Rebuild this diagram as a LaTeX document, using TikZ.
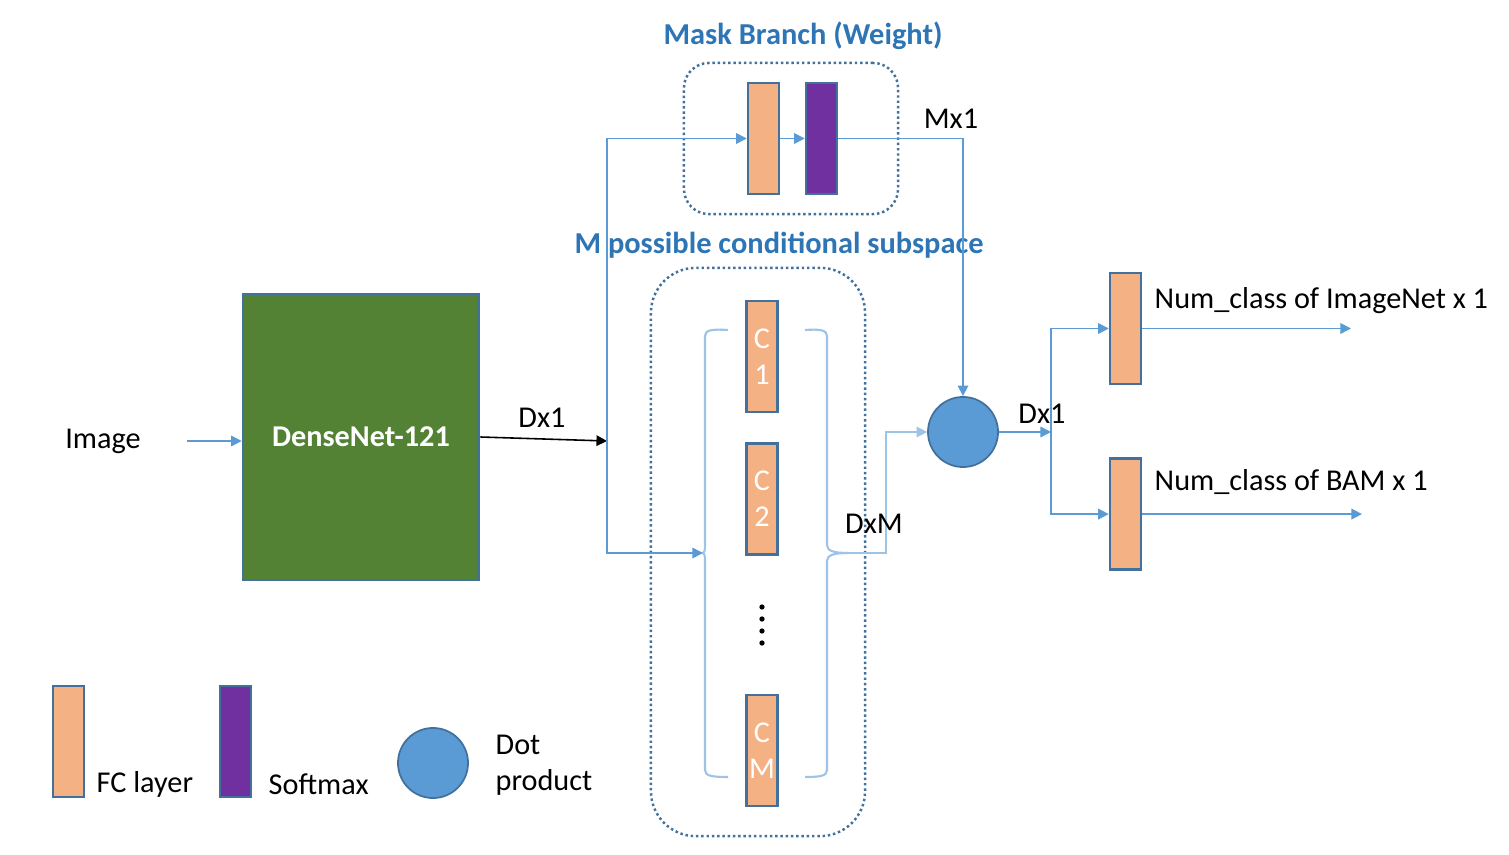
\documentclass[tikz,border=0pt]{standalone}
\usepackage{fontspec}
\setmainfont{Carlito}
\usetikzlibrary{positioning, arrows.meta, calc}
\definecolor{fcfill}{HTML}{F4B183}
\definecolor{smfill}{HTML}{7030A0}
\definecolor{netgreen}{HTML}{548235}
\definecolor{edgeblue}{HTML}{41719C}
\definecolor{flowblue}{HTML}{5B9BD5}
\definecolor{bracelight}{HTML}{9DC3E6}
\definecolor{titleblue}{HTML}{2E75B6}
\tikzset{
	>={Triangle[length=3pt,width=3pt]}, % small filled arrow heads
	every node/.style={font=\fontsize{8.6}{10.2}\selectfont}, % Calibri-like text everywhere
	layer/.style={draw=edgeblue, line width=0.7pt, minimum width=0.31cm, minimum height=1.11cm, inner sep=0pt},
	fc/.style={layer, fill=fcfill, text=white, align=center}, % FC layer
	softmax/.style={layer, fill=smfill}, % softmax layer
	dotprod/.style={circle, draw=edgeblue, line width=0.5pt, fill=flowblue, minimum size=0.7cm, inner sep=0pt},
	flow/.style={->, draw=flowblue, line width=0.45pt}, % blue connectors
	brace/.style={draw=bracelight, line width=0.6pt},
	group/.style={draw=edgeblue, line width=0.7pt, dash pattern=on 0.7pt off 0.8pt},
	heading/.style={font=\fontsize{8.65}{10.5}\selectfont\bfseries, text=titleblue},
}
\begin{document}
\begin{tikzpicture}[x=0.01cm, y=-0.01cm]
	\useasboundingbox (0,0) rectangle (1509,855);
	
	% backbone
	\node (img) at (103,441) {Image};
	\coordinate (imgout) at (187,441);
	\node[draw=edgeblue, line width=0.7pt, fill=netgreen, minimum width=2.36cm, minimum height=2.86cm,
		text=white, font=\fontsize{8.6}{10.2}\selectfont\bfseries] (dense) at (361,437) {DenseNet-121};
	\coordinate (split) at (607,441);
	
	\draw[flow] (imgout) -- (imgout -| dense.west);
	\draw[->, line width=0.45pt] (dense.east) -- (split);
	\node (dx1a) at (542,418) {Dx1};
	
	% mask branch
	\node[group, rounded corners=0.25cm, minimum width=2.14cm, minimum height=1.51cm] (maskbox) at (791,138.5) {};
	\node[heading] (masktitle) at (803,36) {Mask Branch (Weight)};
	\node[fc] (fcm) at (763.5,138.5) {};
	\node[softmax, right=0.245cm of fcm] (smax) {};
	
	\draw[flow] (split) |- (fcm.west);
	\draw[flow] (fcm) -- (smax);
	\node (mx1) at (951,119) {Mx1};
	
	% conditional subspaces
	\node[group, rounded corners=0.45cm, minimum width=2.14cm, minimum height=5.68cm] (subbox) at (758,552) {};
	\node[heading] (subtitle) at (779,245) {M possible conditional subspace};
	\node[fc] (c1) at (762,356.5) {C\\1};
	\node[fc, below=0.29cm of c1] (c2) {C\\2};
	\node[fc] (cM) at (762,750.5) {C\\M};
	\foreach \y in {607,619,631,643}
		\fill (762,\y) circle (0.75pt);
	
	\coordinate (ltip) at (703,553);
	\coordinate (rtip) at (848,553);
	\draw[brace] (728,330) .. controls (712,329) and (705,330) .. (705,336) -- (705,546)
		.. controls (705,551) and (704,553) .. (ltip) .. controls (704,553) and (705,555) .. (705,560)
		-- (705,770) .. controls (705,776) and (712,777) .. (728,777);
	\draw[brace] (805,330) .. controls (820,329) and (827,330) .. (827,336) -- (827,545)
		.. controls (827,551) and (834,553) .. (rtip) .. controls (834,553) and (827,555) .. (827,561)
		-- (827,770) .. controls (827,776) and (820,777) .. (805,777);
	
	\draw[flow] (split) |- (ltip);
	
	% dot product and heads
	\node[dotprod] (dot) at (963,432) {};
	\draw[flow] (smax.east) -| (dot.north);
	\coordinate (dxm) at (886,553);
	\draw[flow, draw=bracelight] (rtip) -- (dxm) |- (dot.west);
	\node (dxmlabel) at (874,524) {DxM};
	
	\coordinate (fork) at (1051,432);
	\draw[flow] (dot.east) -- (fork);
	\node (dx1b) at (1042,414) {Dx1};
	
	\node[fc] (out1) at (1125.5,328.5) {};
	\node[fc, below=0.72cm of out1] (out2) {};
	\draw[flow] (fork) |- (out1.west);
	\draw[flow] (fork) |- (out2.west);
	\coordinate (end1) at (1351,328.5);
	\coordinate (end2) at (1362,511.5);
	\draw[flow] (out1.east) -- (out1.east -| end1);
	\draw[flow] (out2.east) -- (out2.east -| end2);
	\node[anchor=west, inner sep=0pt] (lab1) at (1154,301) {Num\_class of ImageNet x 1};
	\node[anchor=west, inner sep=0pt] (lab2) at (1154,482) {Num\_class of BAM x 1};
	
	% legend
	\node[fc] (legfc) at (68.5,741.5) {};
	\node[anchor=west, inner sep=0pt] (legfctext) at (96,784) {FC layer};
	\node[softmax] (legsm) at (235.5,741.5) {};
	\node[anchor=west, inner sep=0pt] (legsmtext) at (268,784) {Softmax};
	\node[dotprod] (legdot) at (433,763) {};
	\node[anchor=west, inner sep=0pt, align=left] (legdottext) at (495,765) {Dot\\product};
	
\end{tikzpicture}
\end{document}
